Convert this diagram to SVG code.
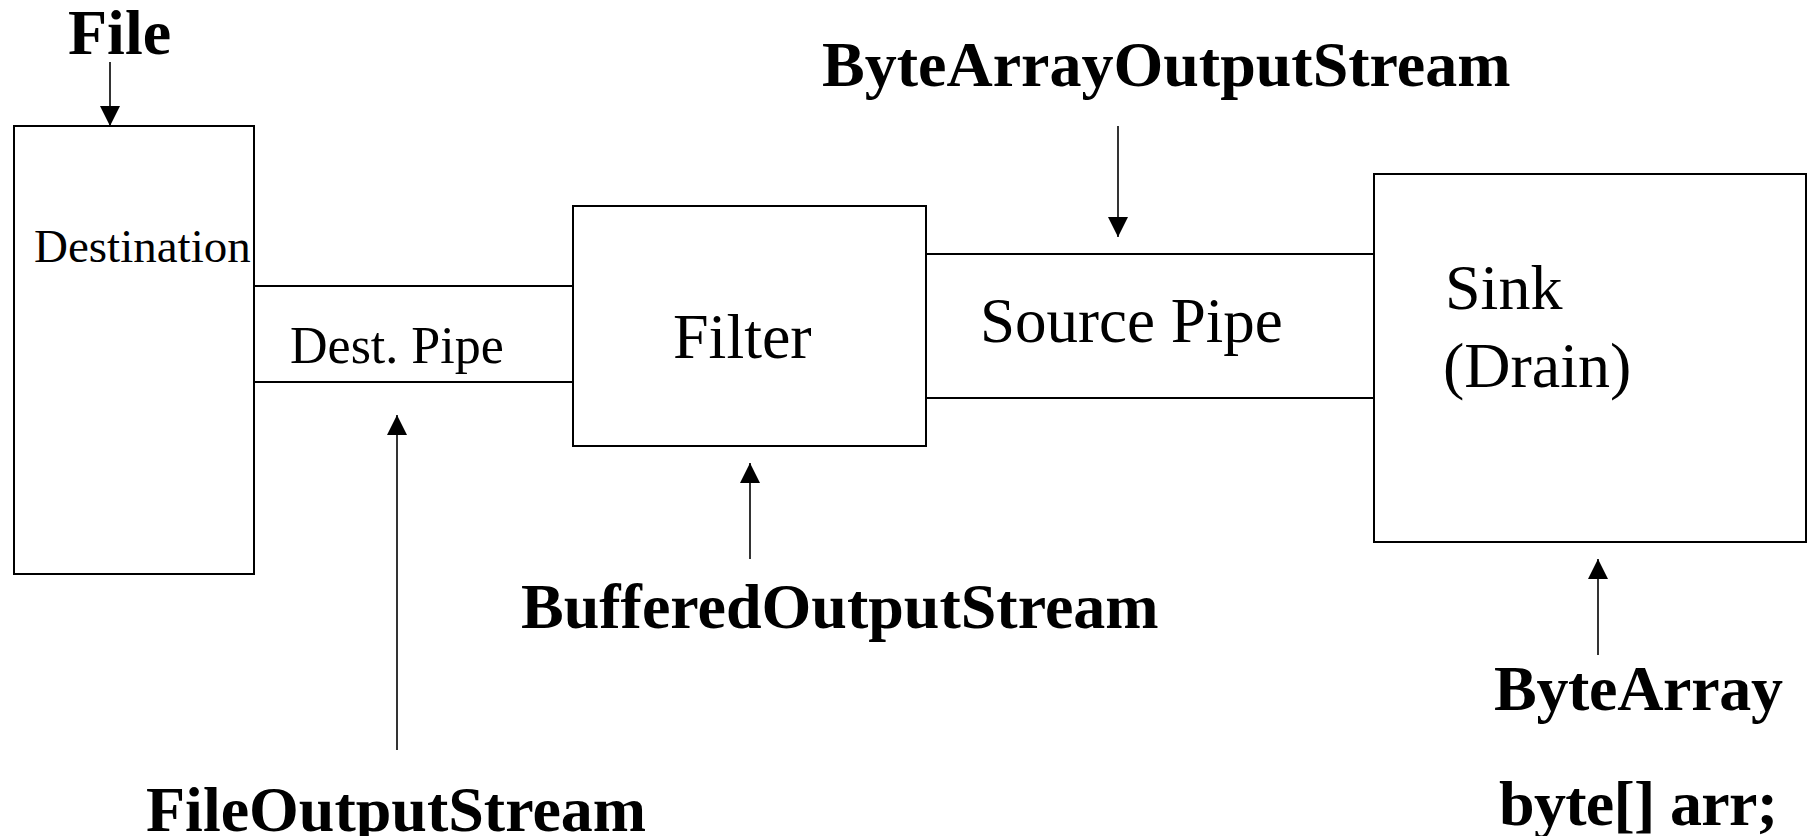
<svg xmlns="http://www.w3.org/2000/svg" width="1811" height="836" viewBox="0 0 1811 836">
  <style>
    .box { fill: #ffffff; stroke: #000000; stroke-width: 2; }
    .pipe { stroke: #000000; stroke-width: 2; fill: none; }
    .arrow { stroke: #000000; stroke-width: 1.6; fill: none; marker-end: url(#ah); }
    .lbl { font-family: "Liberation Serif", "Times New Roman", serif; fill: #000000; }
    .bold { font-family: "Liberation Serif", "Times New Roman", serif; font-weight: bold; fill: #000000; font-size: 64px; }
  </style>
  <defs>
    <marker id="ah" markerUnits="userSpaceOnUse" markerWidth="20" markerHeight="20" viewBox="0 0 20 20" refX="20" refY="10" orient="auto">
      <path d="M0,0 L20,10 L0,20 Z" fill="#000000"/>
    </marker>
  </defs>
  <rect width="1811" height="836" fill="#ffffff"/>

  <g id="destination">
    <rect class="box" x="14" y="126" width="240" height="448"/>
    <text class="lbl" x="34" y="262" font-size="47">Destination</text>
  </g>

  <g id="dest-pipe">
    <line class="pipe" x1="254" y1="286" x2="573" y2="286"/>
    <line class="pipe" x1="254" y1="382" x2="573" y2="382"/>
    <text class="lbl" x="290" y="363" font-size="52">Dest. Pipe</text>
  </g>

  <g id="filter">
    <rect class="box" x="573" y="206" width="353" height="240"/>
    <text class="lbl" x="673" y="358" font-size="64">Filter</text>
  </g>

  <g id="source-pipe">
    <line class="pipe" x1="926" y1="254" x2="1374" y2="254"/>
    <line class="pipe" x1="926" y1="398" x2="1374" y2="398"/>
    <text class="lbl" x="980" y="342" font-size="63">Source Pipe</text>
  </g>

  <g id="sink">
    <rect class="box" x="1374" y="174" width="432" height="368"/>
    <text class="lbl" x="1445" y="309" font-size="64">Sink</text>
    <text class="lbl" x="1443" y="387" font-size="64">(Drain)</text>
  </g>

  <g id="label-file">
    <text class="bold" x="68" y="54" font-size="62">File</text>
  </g>
  <g id="label-bytearrayoutputstream">
    <text class="bold" x="822" y="86">ByteArrayOutputStream</text>
  </g>
  <g id="label-bufferedoutputstream">
    <text class="bold" x="521" y="628">BufferedOutputStream</text>
  </g>
  <g id="label-fileoutputstream">
    <text class="bold" x="146" y="831">FileOutputStream</text>
  </g>
  <g id="label-bytearray">
    <text class="bold" x="1494" y="710" textLength="289" lengthAdjust="spacing">ByteArray</text>
    <text class="bold" x="1499" y="825" textLength="279" lengthAdjust="spacing">byte[] arr;</text>
  </g>

  <g id="connectors">
    <line class="arrow" x1="110" y1="62" x2="110" y2="126"/>
    <line class="arrow" x1="1118" y1="126" x2="1118" y2="237"/>
    <line class="arrow" x1="750" y1="559" x2="750" y2="463"/>
    <line class="arrow" x1="397" y1="750" x2="397" y2="415"/>
    <line class="arrow" x1="1598" y1="655" x2="1598" y2="559"/>
  </g>
</svg>
